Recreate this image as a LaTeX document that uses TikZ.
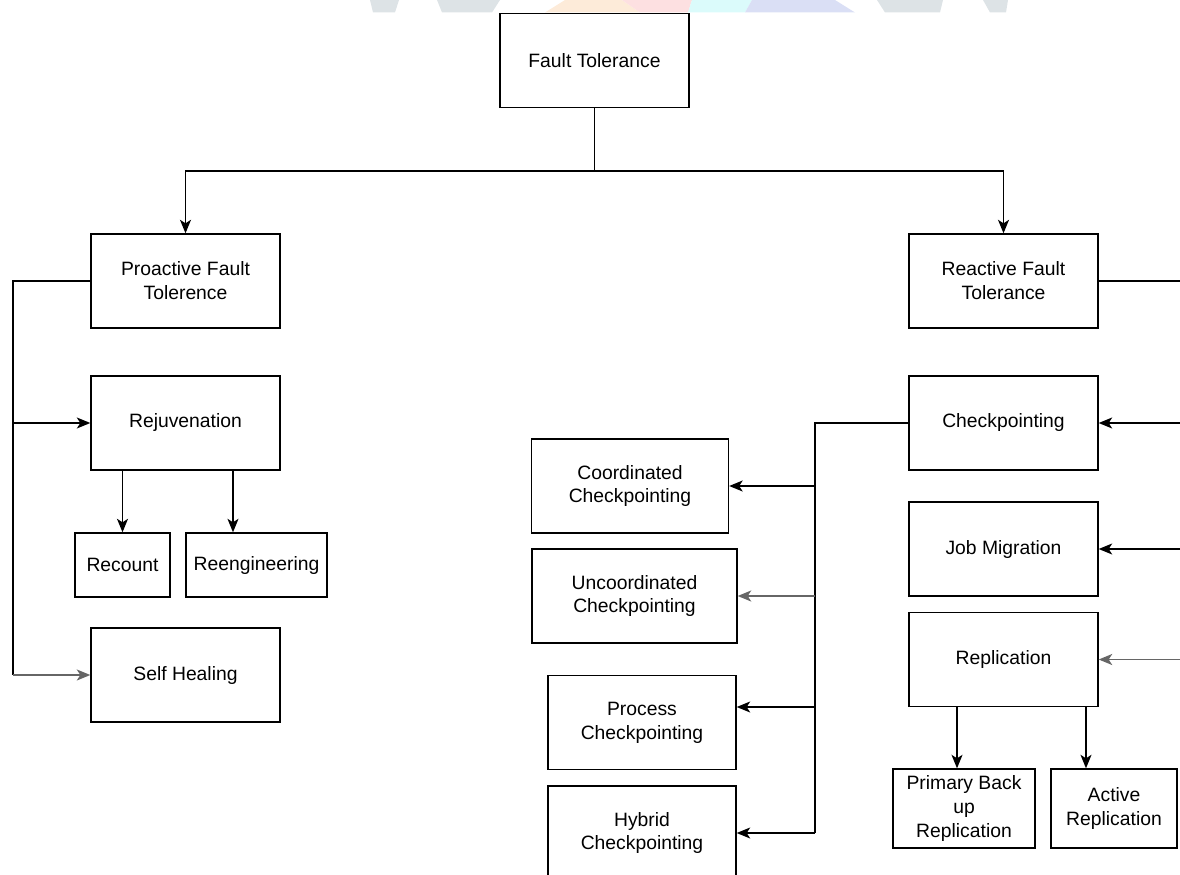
\documentclass[tikz,border=0pt]{standalone}
\usepackage{fontspec}
\setmainfont{Liberation Sans}
\usetikzlibrary{arrows.meta}
\definecolor{wmgray}{HTML}{DDE3E6}
\definecolor{wmorange}{HTML}{FDEBD9}
\definecolor{wmpink}{HTML}{FDE0E1}
\definecolor{wmcyan}{HTML}{DBFBFB}
\definecolor{wmblue}{HTML}{DADFF5}
\tikzset{
  box/.style={draw, line width=0.8pt, align=center, inner sep=0pt,
    font=\fontsize{11}{13.6}\selectfont},
  big/.style={box, minimum width=3.78cm, minimum height=1.88cm},
  conn/.style={line width=0.75pt},
  arr/.style={conn, -{Stealth[length=0.27cm, width=0.22cm, inset=0.07cm]}},
  grayline/.style={draw=black!60, fill=black!60, line width=0.9pt}
}
\begin{document}
\begin{tikzpicture}[x=0.02cm, y=-0.02cm]
\useasboundingbox (0,0) rectangle (1180,875);
% faint watermark strip at top
\fill[wmgray] (370,0) -- (399,0) -- (395,12.5) -- (373,12.5) -- cycle;
\fill[wmgray] (437,0) -- (500,0) -- (492,12.5) -- (442,12.5) -- cycle;
\fill[wmorange] (545,12.5) -- (565,0) -- (622,0) -- (640,12.5) -- cycle;
\fill[wmpink] (622,0) -- (692,0) -- (688,12.5) -- (640,12.5) -- cycle;
\fill[wmcyan] (692,0) -- (752,0) -- (745,12.5) -- (688,12.5) -- cycle;
\fill[wmblue] (752,0) -- (835,0) -- (855,12.5) -- (745,12.5) -- cycle;
\fill[wmgray] (877,0) -- (943,0) -- (940,12.5) -- (885,12.5) -- cycle;
\fill[wmgray] (983,0) -- (1008,0) -- (1006,12.5) -- (990,12.5) -- cycle;

% nodes
\node[big] (ft) at (594.5,60.5) {Fault Tolerance};
\node[big] (pro) at (185.5,281) {Proactive Fault\\Tolerence};
\node[big] (rea) at (1003.5,281) {Reactive Fault\\Tolerance};
\node[big] (rej) at (185.5,423) {Rejuvenation};
\node[box, minimum width=1.9cm, minimum height=1.28cm] (rec) at (122.5,565) {Recount};
\node[box, minimum width=2.82cm, minimum height=1.28cm] (reng) at (256.5,565) {Reengineering};
\node[big] (self) at (185.5,675) {Self Healing};
\node[big] (chk) at (1003.5,423) {Checkpointing};
\node[big] (job) at (1003.5,549) {Job Migration};
\node[big] (rep) at (1003.5,659.5) {Replication};
\node[box, minimum width=2.84cm, minimum height=1.58cm] (prim) at (964,808.5) {Primary Back\\up\\Replication};
\node[box, minimum width=2.52cm, minimum height=1.58cm] (act) at (1114,808.5) {Active\\Replication};
\node[box, minimum width=3.94cm, minimum height=1.88cm] (coord) at (630,486) {Coordinated\\Checkpointing};
\node[box, minimum width=4.10cm, minimum height=1.88cm] (uncoord) at (634.5,596) {Uncoordinated\\Checkpointing};
\node[box, minimum width=3.76cm, minimum height=1.88cm] (proc) at (642,722.5) {Process\\Checkpointing};
\node[box, minimum width=3.76cm, minimum height=1.88cm] (hyb) at (642,833) {Hybrid\\Checkpointing};

% junction coordinates
\coordinate (j1) at (594.5,171);
\coordinate (lt) at (13,281);
\coordinate (rt) at (1185,281);
\coordinate (ct) at (815,423);
\coordinate (pa) at (815,707);

% top split
\draw[conn] (ft.south) -- (j1);
\draw[arr] (j1) -| (pro.north);
\draw[arr] (j1) -| (rea.north);

% proactive branch
\draw[conn] (pro.west) -- (lt) -- (lt |- self.west);
\draw[arr] (lt |- rej.west) -- (rej.west);
\draw[arr, grayline] (lt |- self.west) -- (self.west);
\draw[arr] (rec.north |- rej.south) -- (rec.north);
\draw[arr] ([xshift=0.95cm]rej.south) -- ([xshift=0.95cm]rej.south |- reng.north);

% reactive branch
\draw[conn] (rea.east) -- (rt) -- (rt |- rep.east);
\draw[arr] (rt |- chk.east) -- (chk.east);
\draw[arr] (rt |- job.east) -- (job.east);
\draw[arr, grayline] (rt |- rep.east) -- (rep.east);

% checkpointing branch
\draw[conn] (chk.west) -- (ct) -- (ct |- hyb.east);
\draw[arr] (ct |- coord.east) -- (coord.east);
\draw[arr, grayline] (ct |- uncoord.east) -- (uncoord.east);
\draw[arr] (pa) -- (pa -| proc.east);
\draw[arr] (ct |- hyb.east) -- (hyb.east);

% replication branch
\draw[arr] ([xshift=-0.93cm]rep.south) -- ([xshift=-0.93cm]rep.south |- prim.north);
\draw[arr] ([xshift=1.65cm]rep.south) -- ([xshift=1.65cm]rep.south |- act.north);
\end{tikzpicture}
\end{document}
